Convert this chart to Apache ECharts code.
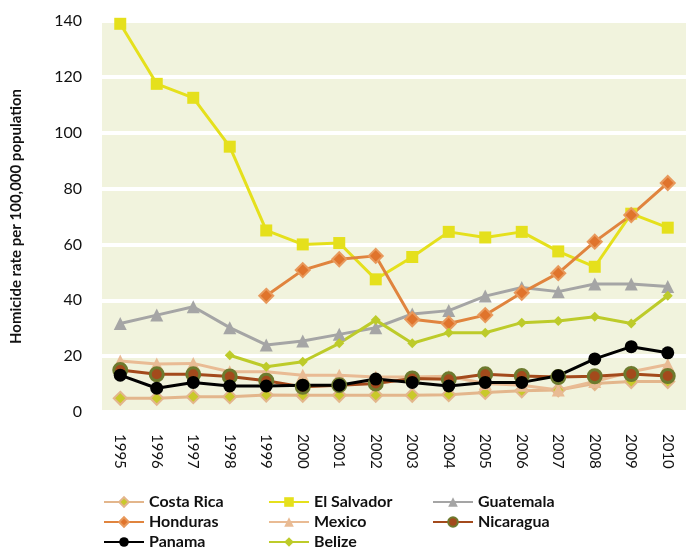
<!DOCTYPE html>
<html>
<head>
<meta charset="utf-8">
<script src="https://cdn.jsdelivr.net/npm/echarts@6/dist/echarts.min.js"></script>
<style>
  html, body { margin: 0; padding: 0; background: #fff; }
  #chart { width: 686px; height: 550px; }
</style>
</head>
<body>
<div id="chart"></div>
<script>
const years = ['1995', '1996', '1997', '1998', '1999', '2000', '2001', '2002',
  '2003', '2004', '2005', '2006', '2007', '2008', '2009', '2010']

const costaRica = [4.9, 4.9, 5.5, 5.5, 6.1, 6, 6, 6, 6, 6.2, 7, 7.6, 7.9, 10.2, 10.9, 10.9]
const elSalvador = [139, 117.5, 112.5, 95, 65, 60, 60.5, 47.5, 55.5, 64.5, 62.5, 64.5, 57.5, 52, 71, 66]
const guatemala = [31.7, 34.7, 37.7, 30.2, 24, 25.4, 27.8, 30.2, 35.1, 36.3, 41.5, 44.6, 43.1, 45.8, 45.8, 44.9]
const honduras = [null, null, null, null, 41.6, 50.8, 54.7, 55.9, 33.2, 31.7, 34.7, 42.7, 49.7, 61, 70.5, 82]
const mexico = [18.3, 17.2, 17.4, 14.4, 14.4, 13.2, 13.2, 12.5, 12.5, 12.8, 10.2, 9.6, 7.9, 10.9, 14.4, 17]
const nicaragua = [15, 13.5, 13.5, 12.7, 11.2, 9, 9.6, 10.2, 12, 11.7, 13.5, 12.9, 12.5, 12.8, 13.6, 12.9]
const panama = [13.2, 8.5, 10.6, 9.3, 9.3, 9.6, 9.6, 11.8, 10.6, 9.3, 10.6, 10.6, 13, 19, 23.4, 21.2]
const belize = [null, null, null, 20.3, 16.2, 18, 24.6, 32.9, 24.6, 28.4, 28.4, 32, 32.6, 34.1, 31.7, 41.6]

const yTicks = [0, 20, 40, 60, 80, 100, 120, 140]

// legend grid under the chart: rows of names
const legendRows = [
  ['Costa Rica', 'El Salvador', 'Guatemala'],
  ['Honduras', 'Mexico', 'Nicaragua'],
  ['Panama', 'Belize']
]
const legendCols = [103, 268, 432]

const chart = echarts.init(document.getElementById('chart'))
const font = 'Lato, "Open Sans", sans-serif'

function line(name, data, color, symbol, size, fill, border, borderWidth) {
  return {
    name: name,
    type: 'line',
    data: data,
    symbol: symbol,
    symbolSize: size,
    connectNulls: false,
    lineStyle: { color: color, width: 3 },
    itemStyle: {
      color: fill || color,
      borderColor: border || fill || color,
      borderWidth: borderWidth || 0
    },
    emphasis: { disabled: true }
  }
}

const legends = []
legendRows.forEach((row, i) => {
  row.forEach((name, j) => {
    legends.push({
      left: legendCols[j],
      top: 494 + i * 20,
      padding: 0,
      itemWidth: 40,
      itemHeight: 12,
      data: [name],
      selectedMode: false,
      textStyle: { fontFamily: font, fontSize: 16, fontWeight: 'bold', color: '#111' }
    })
  })
})

const option = {
  animation: false,
  textStyle: { fontFamily: font },
  grid: {
    left: 102,
    right: 0,
    top: 21,
    bottom: 138,
    show: true,
    backgroundColor: '#f1f3dd',
    borderWidth: 0
  },
  legend: legends,
  xAxis: {
    type: 'category',
    data: years,
    boundaryGap: true,
    axisLine: { show: false },
    axisTick: { show: false },
    axisLabel: {
      rotate: -90,
      margin: 22,
      fontSize: 15,
      color: '#111',
      fontFamily: font
    }
  },
  yAxis: {
    type: 'value',
    min: yTicks[0],
    max: yTicks[yTicks.length - 1],
    interval: 20,
    name: 'Homicide rate per 100,000 population',
    nameLocation: 'middle',
    nameGap: 78,
    nameTextStyle: { fontSize: 15, fontWeight: 'bold', color: '#111', fontFamily: font },
    axisLine: { show: false },
    axisTick: { show: false },
    axisLabel: { fontSize: 16, color: '#111', margin: 20, fontFamily: font },
    splitLine: { lineStyle: { color: '#ffffff', width: 4 } }
  },
  series: [
    line('Costa Rica', costaRica, '#e3b68c', 'diamond', 13, '#c9c92a', '#e3b68c', 2),
    line('El Salvador', elSalvador, '#e5e01c', 'rect', 12),
    line('Guatemala', guatemala, '#a5a5a5', 'triangle', 13),
    line('Honduras', honduras, '#e0843e', 'diamond', 14, '#e0742c', '#e8995c', 2),
    line('Mexico', mexico, '#e9bb94', 'triangle', 13),
    line('Nicaragua', nicaragua, '#a34a1c', 'circle', 13, '#a34a1c', '#6d7a2e', 3),
    line('Panama', panama, '#000000', 'circle', 13),
    line('Belize', belize, '#bdcb2a', 'diamond', 10)
  ]
}

chart.setOption(option)
</script>
</body>
</html>
